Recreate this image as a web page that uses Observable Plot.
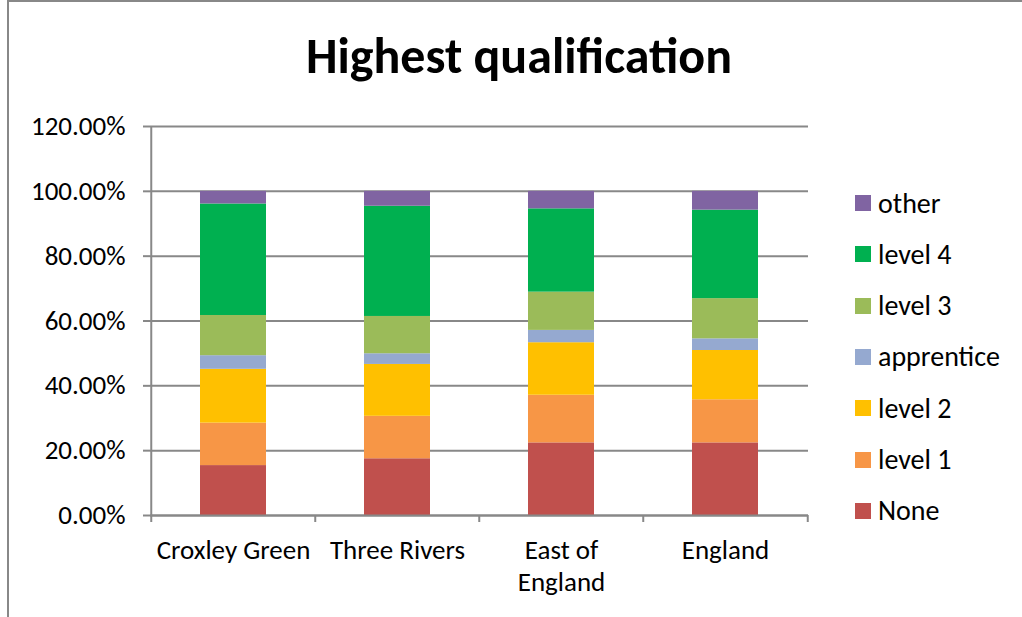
<!DOCTYPE html>
<html><head><meta charset="utf-8">
<script src="https://cdn.jsdelivr.net/npm/d3@7"></script>
<script src="https://cdn.jsdelivr.net/npm/@observablehq/plot@0.6"></script>
<style>
body{margin:0;background:#fff;font-family:Carlito,Lato,sans-serif;color:#000;}
#wrap{position:relative;width:1022px;height:617px;overflow:hidden;background:#fff;}
#frame{position:absolute;left:7px;top:0px;width:1100px;height:700px;border:2px solid #888;box-sizing:border-box;}
#title{position:absolute;left:0;width:1038px;top:31px;text-align:center;font-weight:bold;font-size:50px;line-height:50px;}
#chart{position:absolute;left:0;top:0;}
.li{position:absolute;left:855px;display:flex;align-items:center;font-size:28px;height:28px;}
.sw{width:16px;height:16px;margin-right:7px;}
</style></head>
<body>
<div id="wrap">
  <div id="frame"></div>
  <div id="chart"></div>
  <div id="title">Highest qualification</div>
  <div id="legend"></div>
</div>
<script>
const categories = ["Croxley Green","Three Rivers","East of England","England"];
const series = ["None","level 1","level 2","apprentice","level 3","level 4","other"];
const colors = ["#C0504D","#F79646","#FFC000","#95A9D0","#9BBB59","#00B050","#8064A2"];
// shares (fraction), per category in order above
const none       = [0.154,0.175,0.224,0.224];
const level1     = [0.131,0.131,0.147,0.133];
const level2     = [0.166,0.160,0.162,0.152];
const apprentice = [0.042,0.033,0.038,0.036];
const level3     = [0.124,0.115,0.118,0.124];
const level4     = [0.344,0.340,0.257,0.273];
const other      = [0.039,0.046,0.054,0.058];
const yTicks = [0,0.2,0.4,0.6,0.8,1.0,1.2];
const legendOrder = ["other","level 4","level 3","apprentice","level 2","level 1","None"];

const seriesValues = [none,level1,level2,apprentice,level3,level4,other];
const rows = [];
series.forEach((s,si)=>categories.forEach((c,ci)=>rows.push({cat:c,series:s,value:seriesValues[si][ci]})));

const W=1022,H=617,mL=150,mR=214,mT=126,mB=102;
const step=(W-mL-mR)/categories.length;
const pxPerUnit=(H-mT-mB)/1.2;
const tickLen=7/pxPerUnit;

const bounds = categories.map((c,i)=>({cat:c,dx:-step/2,top:i===0?1.2:0})).concat([{cat:categories[categories.length-1],dx:step/2,top:0}]);

const chart = Plot.plot({
  width:W,height:H,marginLeft:mL,marginRight:mR,marginTop:mT,marginBottom:mB,
  style:{fontFamily:"Carlito, Lato, sans-serif",fontSize:"27px",color:"#000",background:"transparent",overflow:"visible"},
  x:{domain:categories,paddingInner:0.6,paddingOuter:0.3,axis:null},
  y:{domain:[0,1.2],axis:null},
  color:{domain:series,range:colors},
  marks:[
    Plot.ruleY(yTicks,{stroke:"#888",strokeWidth:2}),
    Plot.barY(rows,{x:"cat",y:"value",fill:"series",order:series}),
    Plot.ruleY([0],{stroke:"#888",strokeWidth:2}),
    ...bounds.map(b=>Plot.ruleX([b],{x:"cat",dx:b.dx,y1:-tickLen,y2:"top",stroke:"#888",strokeWidth:2})),
    Plot.axisY({ticks:yTicks,tickFormat:d3.format(".2%"),tickSize:7,tickPadding:18,fontSize:27,stroke:"#888",strokeWidth:2,fill:"#000",label:null}),
    Plot.axisX({tickSize:0,tickPadding:20,fontSize:27,lineHeight:1.2,fill:"#000",label:null,
      tickFormat:d=>d==="East of England"?"East of\nEngland":d})
  ]
});
document.getElementById("chart").appendChild(chart);

const leg=document.getElementById("legend");
legendOrder.forEach((s,i)=>{
  const d=document.createElement("div");d.className="li";
  d.style.top=(203+i*51.3-14)+"px";
  const sw=document.createElement("span");sw.className="sw";sw.style.background=colors[series.indexOf(s)];
  const t=document.createElement("span");t.textContent=s;
  d.appendChild(sw);d.appendChild(t);leg.appendChild(d);
});
</script>
</body></html>
